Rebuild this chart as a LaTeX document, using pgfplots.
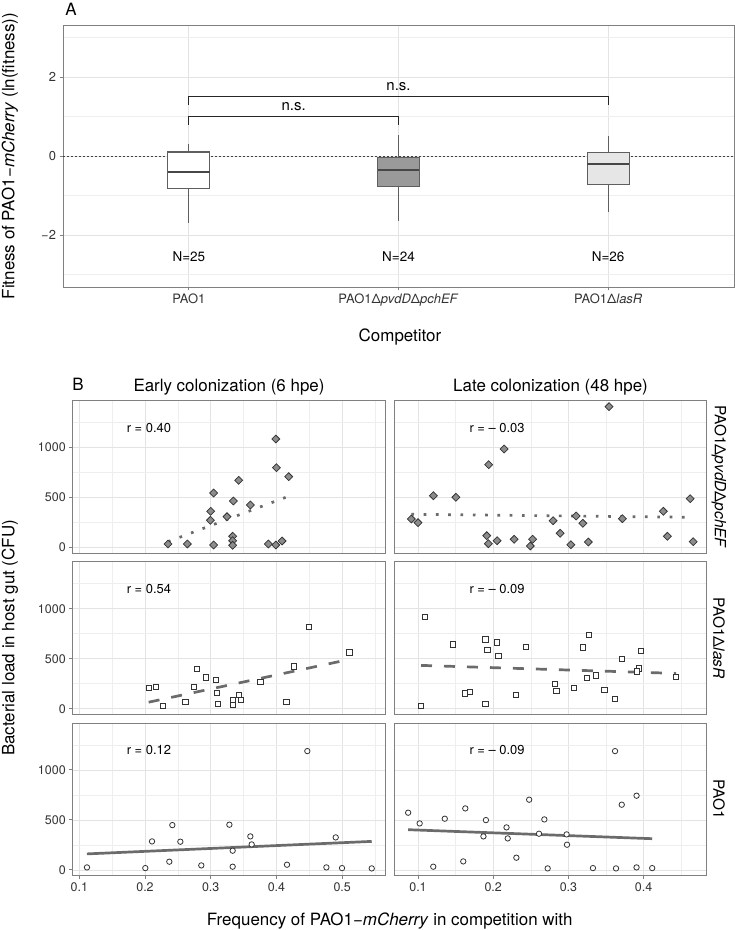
\documentclass[border=0pt]{standalone}
\usepackage{fontspec}
\setmainfont{TeX Gyre Heros}
\usepackage{pgfplots}
\pgfplotsset{compat=1.18}
\usepgfplotslibrary{statistics}

\definecolor{gridc}{HTML}{E3E3E3}
\definecolor{gridm}{HTML}{EEEEEE}
\definecolor{frame}{HTML}{808080}
\definecolor{ticklab}{HTML}{333333}
\definecolor{dia}{HTML}{8C8C8C}
\definecolor{edge}{HTML}{333333}
\definecolor{trend}{HTML}{6B6B6B}
\definecolor{boxedge}{HTML}{5E5E5E}
\definecolor{boxmid}{HTML}{9A9A9A}
\definecolor{boxlight}{HTML}{E6E6E6}

\newcommand{\fs}[1]{\fontsize{#1}{#1}\selectfont}

\tikzset{rlab/.style={anchor=west, font=\fs{13}, text=black}}

\pgfplotsset{
 common/.style={scale only axis, axis line style={frame, line width=0.9bp},
   grid=both, major grid style={gridc, line width=0.7bp}, minor grid style={gridm, line width=0.45bp},
   tick align=outside, tick pos=left, major tick length=3.5bp, minor tick length=0pt,
   tick style={frame, line width=0.8bp},
   ticklabel style={font=\fs{12.5}, text=ticklab}, anchor=south west},
 bpanel/.style={common, width=312.5bp, height=152.6bp, ymin=-58, ymax=1468,
   ytick={0,500,1000}, minor ytick={250,750,1250}, yticklabels={0,500,1000}},
 leftcol/.style={xmin=0.09, xmax=0.5655, xtick={0.1,0.2,0.3,0.4,0.5},
   minor xtick={0.15,0.25,0.35,0.45,0.55}, xticklabels={0.1,0.2,0.3,0.4,0.5}},
 rightcol/.style={xmin=0.0685, xmax=0.484, xtick={0.1,0.2,0.3,0.4},
   minor xtick={0.15,0.25,0.35,0.45}, xticklabels={0.1,0.2,0.3,0.4},
   yticklabels={}, ytick style={draw=none}},
 notbottom/.style={xticklabels={}, xtick style={draw=none}},
 diam/.style={only marks, mark=square*, mark size=2.8bp, mark options={rotate=45, fill=dia, draw=edge, line width=0.75bp}},
 sq/.style={only marks, mark=square*, mark size=2.6bp, mark options={fill=white, draw=edge, line width=0.8bp}},
 circ/.style={only marks, mark=*, mark size=2.7bp, mark options={fill=white, draw=edge, line width=0.8bp}},
 dotl/.style={trend, line width=2.7bp, dash pattern=on 2.7bp off 9.6bp},
 dashl/.style={trend, line width=2.7bp, dash pattern=on 11bp off 12bp},
 solidl/.style={trend, line width=2.7bp},
}

\begin{document}
\begin{tikzpicture}
\path[use as bounding box] (0,0) rectangle (735bp,930bp);

% ---------------- Panel A ----------------
\begin{axis}[common, at={(63bp,643bp)}, width=671bp, height=262bp,
  xmin=0.4, xmax=3.6, ymin=-3.32, ymax=3.32,
  xtick={1,2,3}, minor xtick={},
  xticklabels={PAO1, PAO1Δ\textit{pvdD}Δ\textit{pchEF}, PAO1Δ\textit{lasR}},
  ytick={-2,0,2}, yticklabels={−2,0,2}, minor ytick={-3,-1,1,3},
  ticklabel style={font=\fs{13}},
  boxplot/draw direction=y]
\addplot[black!75, line width=0.6bp, dash pattern=on 2bp off 2bp] coordinates {(0.4,0) (3.6,0)};
\addplot[boxplot prepared={median=-0.40, upper quartile=0.10, lower quartile=-0.83,
   upper whisker=0.30, lower whisker=-1.70, draw position=1, box extend=0.2, whisker extend=0},
   draw=boxedge, fill=white, line width=1.1bp,
   boxplot/every median/.style={draw=black!72, line width=2.4bp}] coordinates {};
\addplot[boxplot prepared={median=-0.36, upper quartile=-0.03, lower quartile=-0.78,
   upper whisker=0.53, lower whisker=-1.64, draw position=2, box extend=0.2, whisker extend=0},
   draw=boxedge, fill=boxmid, line width=1.1bp,
   boxplot/every median/.style={draw=black!72, line width=2.4bp}] coordinates {};
\addplot[boxplot prepared={median=-0.20, upper quartile=0.08, lower quartile=-0.73,
   upper whisker=0.51, lower whisker=-1.43, draw position=3, box extend=0.2, whisker extend=0},
   draw=boxedge, fill=boxlight, line width=1.1bp,
   boxplot/every median/.style={draw=black!72, line width=2.4bp}] coordinates {};
\draw[black!85, line width=0.8bp] (axis cs:1,0.78) -- (axis cs:1,1.0) -- (axis cs:2,1.0) -- (axis cs:2,0.78);
\draw[black!85, line width=0.8bp] (axis cs:1,1.30) -- (axis cs:1,1.5) -- (axis cs:3,1.5) -- (axis cs:3,1.30);
\node[font=\fs{15}] at (axis cs:1.5,1.24) {n.s.};
\node[font=\fs{15}] at (axis cs:2,1.75) {n.s.};
\node[font=\fs{13.5}] at (axis cs:1,-2.55) {N=25};
\node[font=\fs{13.5}] at (axis cs:2,-2.55) {N=24};
\node[font=\fs{13.5}] at (axis cs:3,-2.55) {N=26};
\end{axis}

\node[font=\fs{17}] at (71bp,921bp) {A};
\node[font=\fs{17}, rotate=90] at (10bp,774bp) {Fitness of PAO1−\textit{mCherry} (ln(fitness))};
\node[font=\fs{17}] at (400bp,593bp) {Competitor};

% ---------------- Panel B ----------------
% Row 1: PAO1 dpvdD dpchEF
\begin{axis}[bpanel, leftcol, notbottom, at={(72.7bp,376.7bp)}]
\addplot[diam] coordinates {(0.399,1085)(0.400,798)(0.4187,708)(0.3426,672)(0.3045,545)(0.3345,465)(0.3603,425)(0.300,362)(0.3248,308)(0.2995,272)(0.3334,112)(0.3334,68)(0.3334,22)(0.235,35)(0.2644,35)(0.3045,25)(0.3877,35)(0.399,25)(0.4085,65)};
\addplot[dotl] coordinates {(0.235,58) (0.4187,513)};
\node[rlab] at (axis cs:0.167,1192) {r = 0.40};
\end{axis}
\begin{axis}[bpanel, rightcol, notbottom, at={(394.3bp,376.7bp)}]
\addplot[diam] coordinates {(0.354,1408)(0.2145,985)(0.194,828)(0.1205,518)(0.1504,502)(0.4619,488)(0.0911,285)(0.100,248)(0.4262,362)(0.3718,288)(0.3103,315)(0.3192,242)(0.2796,268)(0.289,142)(0.1914,118)(0.1936,38)(0.2052,68)(0.2279,82)(0.2524,82)(0.2493,15)(0.3032,28)(0.3264,55)(0.4316,112)(0.4659,58)};
\addplot[dotl] coordinates {(0.0911,332) (0.4659,302)};
\node[rlab] at (axis cs:0.1638,1192) {r = – 0.03};
\end{axis}

% Row 2: PAO1 dlasR
\begin{axis}[bpanel, leftcol, notbottom, at={(72.7bp,215.5bp)}]
\addplot[sq] coordinates {(0.4491,820)(0.511,563)(0.4263,423)(0.2786,400)(0.2928,313)(0.3076,290)(0.2741,216)(0.2056,206)(0.2167,216)(0.3755,270)(0.3091,156)(0.3431,136)(0.3334,90)(0.3456,87)(0.2614,70)(0.4151,70)(0.2274,26)(0.3111,50)(0.3334,36)};
\addplot[dashl] coordinates {(0.2056,65) (0.511,493)};
\node[rlab] at (axis cs:0.167,1200) {r = 0.54};
\end{axis}
\begin{axis}[bpanel, rightcol, notbottom, at={(394.3bp,215.5bp)}]
\addplot[sq] coordinates {(0.1094,920)(0.3268,740)(0.1468,643)(0.1896,693)(0.2047,663)(0.1922,590)(0.207,530)(0.2435,616)(0.3197,613)(0.3968,576)(0.3709,496)(0.3937,403)(0.3914,373)(0.4431,316)(0.3362,333)(0.325,306)(0.2818,250)(0.284,176)(0.3068,210)(0.3478,186)(0.362,96)(0.2301,136)(0.1624,153)(0.1691,170)(0.1896,46)(0.104,26)};
\addplot[dashl] coordinates {(0.104,433) (0.4431,353)};
\node[rlab] at (axis cs:0.1638,1200) {r = – 0.09};
\end{axis}

% Row 3: PAO1
\begin{axis}[bpanel, leftcol, at={(72.7bp,54.3bp)}]
\addplot[circ] coordinates {(0.2416,448)(0.3284,452)(0.2107,285)(0.2538,282)(0.3603,335)(0.3623,255)(0.4902,325)(0.3334,192)(0.237,82)(0.2857,45)(0.3334,32)(0.4161,52)(0.2005,18)(0.476,25)(0.4998,18)(0.545,15)(0.447,1188)(0.1117,25)};
\addplot[solidl] coordinates {(0.1117,160) (0.545,285)};
\node[rlab] at (axis cs:0.167,1200) {r = 0.12};
\end{axis}
\begin{axis}[bpanel, rightcol, at={(394.3bp,54.3bp)}]
\addplot[circ] coordinates {(0.0869,572)(0.1022,465)(0.1356,512)(0.1629,615)(0.1903,498)(0.2177,425)(0.187,335)(0.2193,315)(0.2478,702)(0.268,505)(0.2609,362)(0.2976,355)(0.2981,252)(0.2308,122)(0.1602,85)(0.1203,32)(0.2724,15)(0.3326,18)(0.3633,15)(0.3906,25)(0.4114,18)(0.3709,652)(0.3906,742)(0.362,1188)};
\addplot[solidl] coordinates {(0.0869,402) (0.4114,312)};
\node[rlab] at (axis cs:0.1638,1200) {r = – 0.09};
\end{axis}

\node[font=\fs{17}] at (78bp,546bp) {B};
\node[font=\fs{17}] at (229bp,543bp) {Early colonization (6 hpe)};
\node[font=\fs{17}] at (550.5bp,543bp) {Late colonization (48 hpe)};
\node[font=\fs{15.5}, rotate=-90] at (719bp,453bp) {PAO1Δ\textit{pvdD}Δ\textit{pchEF}};
\node[font=\fs{15.5}, rotate=-90] at (719bp,292bp) {PAO1Δ\textit{lasR}};
\node[font=\fs{15.5}, rotate=-90] at (719bp,130.7bp) {PAO1};
\node[font=\fs{17}, rotate=90] at (10bp,292bp) {Bacterial load in host gut (CFU)};
\node[font=\fs{17}, anchor=base] at (389.7bp,4.5bp) {Frequency of PAO1−\textit{mCherry} in competition with};
\end{tikzpicture}
\end{document}
